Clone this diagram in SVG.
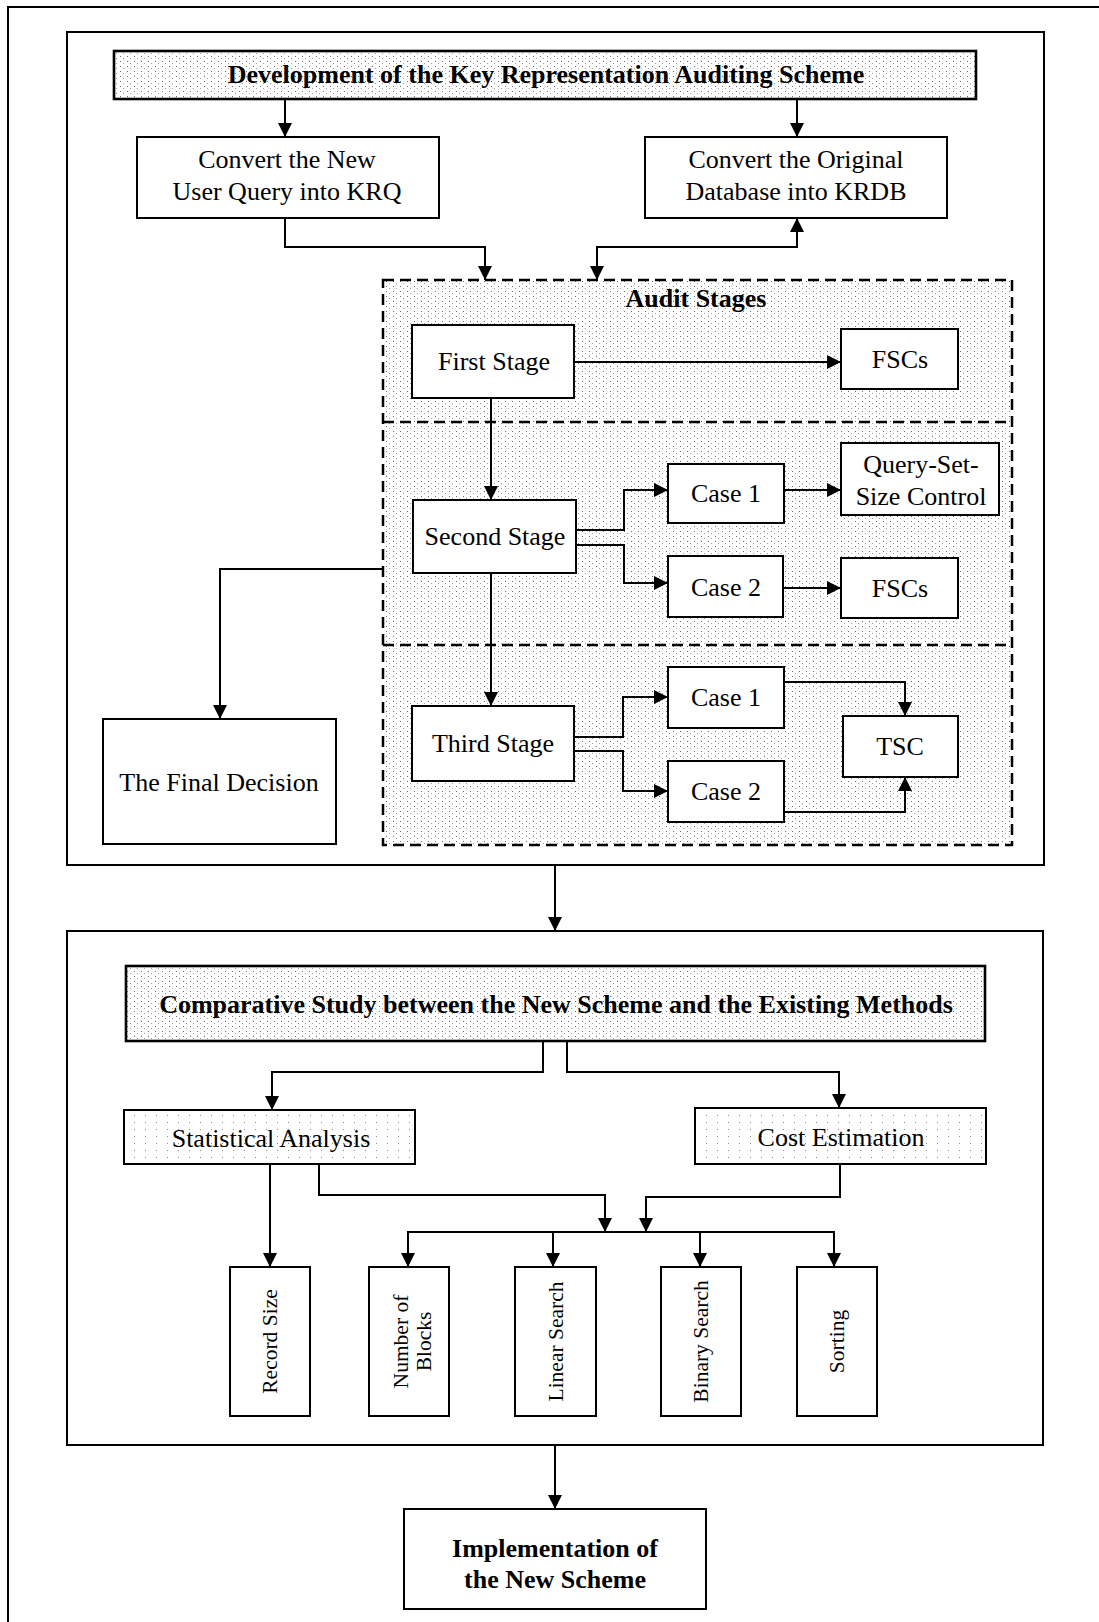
<svg xmlns="http://www.w3.org/2000/svg" width="1099" height="1622" viewBox="0 0 1099 1622">
  <style>
    text { font-family: "Liberation Serif", "Times New Roman", serif; font-size: 26px; fill: #000; text-anchor: middle; }
    .b { font-weight: bold; }
    .v { font-size: 21.5px; }
    .box { fill: #fff; stroke: #000; stroke-width: 2; }
    .head { fill: url(#stip); stroke: #000; stroke-width: 2.6; }
    .light { fill: url(#stipLight); stroke: #000; stroke-width: 2; }
    .frame { fill: none; stroke: #000; stroke-width: 2; }
    .dash { stroke: #000; stroke-width: 2.5; stroke-dasharray: 11 6; }
    .wire { fill: none; stroke: #000; stroke-width: 2; marker-end: url(#arr); }
    .plain { fill: none; stroke: #000; stroke-width: 2; }
  </style>
  <defs>
    <pattern id="stip" width="7" height="5" patternUnits="userSpaceOnUse">
      <rect width="7" height="5" fill="#fff"/>
      <rect x="1" y="1" width="1" height="1" fill="#6a6a6a"/>
      <rect x="4" y="3" width="1" height="1" fill="#9a9a9a"/>
    </pattern>
    <pattern id="stipLight" width="11" height="7" patternUnits="userSpaceOnUse">
      <rect width="11" height="7" fill="#fff"/>
      <rect x="2" y="2" width="1" height="1" fill="#8a8a8a"/>
    </pattern>
    <marker id="arr" viewBox="0 0 14 14" refX="14" refY="7" markerWidth="14" markerHeight="14" markerUnits="userSpaceOnUse" orient="auto-start-reverse">
      <path d="M0,0 L14,7 L0,14 z" fill="#000"/>
    </marker>
  </defs>

  <!-- page frame (runs off the right and bottom edges) -->
  <path class="frame" d="M8,1622 L8,7 L1099,7"/>

  <!-- section frames -->
  <rect class="frame" x="67" y="32" width="977" height="833"/>
  <rect class="frame" x="67" y="931" width="976" height="514"/>

  <!-- audit stages container -->
  <g id="audit-stages">
    <rect x="383" y="280" width="629" height="565" fill="url(#stip)" class="dash"/>
    <line class="dash" x1="383" y1="422" x2="1012" y2="422"/>
    <line class="dash" x1="383" y1="645" x2="1012" y2="645"/>
    <text class="b" x="696" y="307">Audit Stages</text>
  </g>

  <g id="connectors">
    <path class="wire" d="M285,99 L285,137"/>
    <path class="wire" d="M797,99 L797,137"/>
    <path class="wire" d="M285,218 L285,247 L485,247 L485,280"/>
    <path class="wire" d="M597,280 L597,247 L797,247 L797,218" style="marker-start:url(#arr)"/>
    <path class="wire" d="M574,362 L841,362"/>
    <path class="wire" d="M491,398 L491,500"/>
    <path class="wire" d="M576,530 L624,530 L624,490 L668,490"/>
    <path class="wire" d="M576,545 L624,545 L624,583 L668,583"/>
    <path class="wire" d="M784,490 L841,490"/>
    <path class="wire" d="M783,588 L841,588"/>
    <path class="wire" d="M491,573 L491,706"/>
    <path class="wire" d="M382,569 L220,569 L220,719"/>
    <path class="wire" d="M574,737 L623,737 L623,697 L668,697"/>
    <path class="wire" d="M574,751 L623,751 L623,791 L668,791"/>
    <path class="wire" d="M784,682 L905,682 L905,716"/>
    <path class="wire" d="M784,812 L905,812 L905,777"/>
    <path class="wire" d="M555,865 L555,931"/>
    <path class="wire" d="M543,1041 L543,1072 L272,1072 L272,1110"/>
    <path class="wire" d="M567,1041 L567,1072 L839,1072 L839,1108"/>
    <path class="wire" d="M270,1164 L270,1267"/>
    <path class="wire" d="M319,1164 L319,1195 L605,1195 L605,1232"/>
    <path class="wire" d="M840,1164 L840,1197 L646,1197 L646,1232"/>
    <path class="plain" d="M407,1232 L835,1232"/>
    <path class="wire" d="M408,1232 L408,1267"/>
    <path class="wire" d="M553,1232 L553,1267"/>
    <path class="wire" d="M700,1232 L700,1267"/>
    <path class="wire" d="M834,1232 L834,1267"/>
    <path class="wire" d="M555,1445 L555,1509"/>
  </g>

  <g id="dev-title">
    <rect class="head" x="114" y="51" width="862" height="48"/>
    <text class="b" x="546" y="83">Development of the Key Representation Auditing Scheme</text>
  </g>
  <g id="convert-krq">
    <rect class="box" x="137" y="137" width="302" height="81"/>
    <text x="287" y="168">Convert the New</text>
    <text x="287" y="200">User Query into KRQ</text>
  </g>
  <g id="convert-krdb">
    <rect class="box" x="645" y="137" width="302" height="81"/>
    <text x="796" y="168">Convert the Original</text>
    <text x="796" y="200">Database into KRDB</text>
  </g>
  <g id="first-stage">
    <rect class="box" x="412" y="325" width="162" height="73"/>
    <text x="494" y="370">First Stage</text>
  </g>
  <g id="fscs-1">
    <rect class="box" x="841" y="329" width="117" height="60"/>
    <text x="900" y="368">FSCs</text>
  </g>
  <g id="second-stage">
    <rect class="box" x="413" y="500" width="163" height="73"/>
    <text x="495" y="545">Second Stage</text>
  </g>
  <g id="s2-case-1">
    <rect class="box" x="668" y="464" width="116" height="59"/>
    <text x="726" y="502">Case 1</text>
  </g>
  <g id="query-set-size">
    <rect class="box" x="841" y="443" width="158" height="72"/>
    <text x="921" y="473">Query-Set-</text>
    <text x="921" y="505">Size Control</text>
  </g>
  <g id="s2-case-2">
    <rect class="box" x="668" y="556" width="115" height="61"/>
    <text x="726" y="596">Case 2</text>
  </g>
  <g id="fscs-2">
    <rect class="box" x="841" y="558" width="117" height="60"/>
    <text x="900" y="597">FSCs</text>
  </g>
  <g id="third-stage">
    <rect class="box" x="412" y="706" width="162" height="75"/>
    <text x="493" y="752">Third Stage</text>
  </g>
  <g id="s3-case-1">
    <rect class="box" x="668" y="667" width="116" height="61"/>
    <text x="726" y="706">Case 1</text>
  </g>
  <g id="s3-case-2">
    <rect class="box" x="668" y="761" width="116" height="61"/>
    <text x="726" y="800">Case 2</text>
  </g>
  <g id="tsc">
    <rect class="box" x="843" y="716" width="115" height="61"/>
    <text x="900" y="755">TSC</text>
  </g>
  <g id="final-decision">
    <rect class="box" x="103" y="719" width="233" height="125"/>
    <text x="219" y="791">The Final Decision</text>
  </g>

  <g id="comparative-title">
    <rect class="head" x="126" y="966" width="859" height="75"/>
    <text class="b" x="556" y="1013">Comparative Study between the New Scheme and the Existing Methods</text>
  </g>
  <g id="statistical-analysis">
    <rect class="light" x="124" y="1110" width="291" height="54"/>
    <text x="271" y="1147">Statistical Analysis</text>
  </g>
  <g id="cost-estimation">
    <rect class="light" x="695" y="1108" width="291" height="56"/>
    <text x="841" y="1146">Cost Estimation</text>
  </g>
  <g id="record-size">
    <rect class="box" x="230" y="1267" width="80" height="149"/>
    <text class="v" transform="translate(277,1341.5) rotate(-90)">Record Size</text>
  </g>
  <g id="number-of-blocks">
    <rect class="box" x="369" y="1267" width="80" height="149"/>
    <text class="v" transform="translate(408,1341.5) rotate(-90)">Number of</text>
    <text class="v" transform="translate(431,1341.5) rotate(-90)">Blocks</text>
  </g>
  <g id="linear-search">
    <rect class="box" x="515" y="1267" width="81" height="149"/>
    <text class="v" transform="translate(563,1341.5) rotate(-90)">Linear Search</text>
  </g>
  <g id="binary-search">
    <rect class="box" x="661" y="1267" width="80" height="149"/>
    <text class="v" transform="translate(708,1341.5) rotate(-90)">Binary Search</text>
  </g>
  <g id="sorting">
    <rect class="box" x="797" y="1267" width="80" height="149"/>
    <text class="v" transform="translate(844,1341.5) rotate(-90)">Sorting</text>
  </g>

  <g id="implementation">
    <rect class="box" x="404" y="1509" width="302" height="100"/>
    <text class="b" x="555" y="1557">Implementation of</text>
    <text class="b" x="555" y="1588">the New Scheme</text>
  </g>
</svg>
